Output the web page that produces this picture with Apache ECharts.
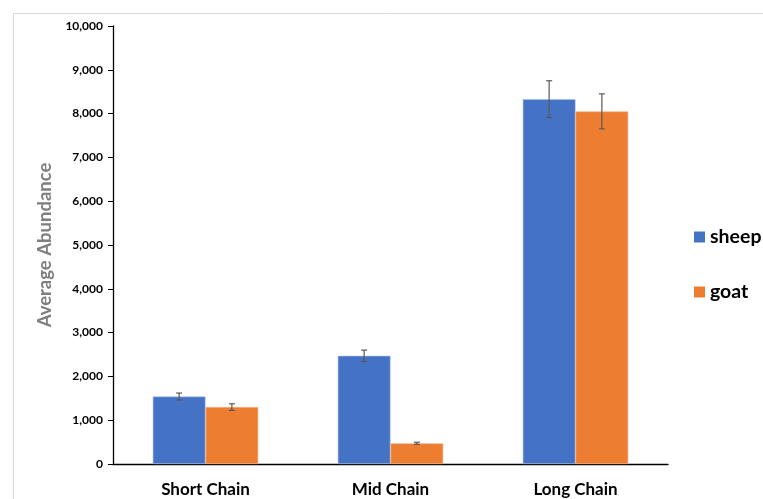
<!DOCTYPE html>
<html>
<head>
<meta charset="utf-8">
<script src="https://cdn.jsdelivr.net/npm/echarts@6/dist/echarts.min.js"></script>
<style>html,body{margin:0;padding:0;background:#fff}#c{width:763px;height:499px}</style>
</head>
<body>
<div id="c"></div>
<script>
const categories = ['Short Chain', 'Mid Chain', 'Long Chain'];
const seriesNames = ['sheep', 'goat'];
const sheepValues = [1540, 2470, 8330];
const goatValues = [1300, 472, 8050];
const sheepErrors = [80, 130, 420];
const goatErrors = [75, 25, 400];
const yTicks = [0, 1000, 2000, 3000, 4000, 5000, 6000, 7000, 8000, 9000, 10000];

const colors = ['#4472C4', '#ED7D31'];
const catGap = 0.43;
const font = 'Lato, "Open Sans", sans-serif';

function errorSeries(values, errors, idx) {
  const data = values.map((v, i) => [i, v, errors[i]]);
  return {
    type: 'custom',
    name: seriesNames[idx] + '_err',
    z: 10,
    silent: true,
    data: data,
    encode: { x: 0, y: 1 },
    renderItem: function (params, api) {
      const cat = api.value(0), val = api.value(1), err = api.value(2);
      const catW = api.size([1, 0])[0];
      const barW = catW * (1 - catGap) / 2;
      const c = api.coord([cat, val]);
      const x = c[0] + (idx === 0 ? -barW / 2 : barW / 2);
      const top = api.coord([cat, val + err])[1];
      const bot = api.coord([cat, val - err])[1];
      const cap = 3;
      const st = { stroke: '#595959', lineWidth: 1.2 };
      return {
        type: 'group',
        children: [
          { type: 'line', shape: { x1: x, y1: top, x2: x, y2: bot }, style: st },
          { type: 'line', shape: { x1: x - cap, y1: top, x2: x + cap, y2: top }, style: st },
          { type: 'line', shape: { x1: x - cap, y1: bot, x2: x + cap, y2: bot }, style: st }
        ]
      };
    }
  };
}

const chart = echarts.init(document.getElementById('c'), null, { renderer: 'canvas' });
chart.setOption({
  animation: false,
  backgroundColor: '#fff',
  graphic: [{
    type: 'rect', left: 11, top: 11, shape: { width: 780, height: 520 },
    style: { fill: 'none', stroke: '#d9d9d9', lineWidth: 1 }, silent: true, z: -1
  }],
  grid: { left: 113, right: 95, top: 26, bottom: 35 },
  legend: {
    data: seriesNames,
    orient: 'vertical',
    left: 689,
    top: 222,
    itemWidth: 11,
    itemHeight: 11,
    itemGap: 35,
    icon: 'rect',
    itemStyle: { borderWidth: 0 },
    textStyle: { fontFamily: font, fontWeight: 'bold', fontSize: 19.5, color: '#000' }
  },
  xAxis: {
    type: 'category',
    data: categories,
    axisLine: { lineStyle: { color: '#000', width: 1.3 } },
    axisTick: { show: false },
    axisLabel: { fontFamily: font, fontWeight: 'bold', fontSize: 17, color: '#000', margin: 17 }
  },
  yAxis: {
    type: 'value',
    min: 0, max: 10000, interval: 1000,
    name: 'Average Abundance',
    nameLocation: 'middle',
    nameGap: 56,
    nameRotate: 90,
    nameTextStyle: { fontFamily: font, fontWeight: 'bold', fontSize: 18.5, color: '#7f7f7f' },
    axisLine: { show: true, lineStyle: { color: '#000', width: 1.3 } },
    axisTick: { show: true, length: 5, lineStyle: { color: '#000' } },
    splitLine: { show: false },
    axisLabel: {
      fontFamily: font, fontWeight: 'bold', fontSize: 12, color: '#000', margin: 10,
      formatter: v => yTicks.includes(v) ? v.toLocaleString('en-US') : ''
    }
  },
  series: [
    { name: 'sheep', type: 'bar', data: sheepValues, barGap: '0%', barCategoryGap: (catGap * 100) + '%',
      itemStyle: { color: colors[0], borderColor: '#a9bfe6', borderWidth: 0.6 } },
    { name: 'goat', type: 'bar', data: goatValues, barGap: '0%', barCategoryGap: (catGap * 100) + '%',
      itemStyle: { color: colors[1], borderColor: '#f5b48a', borderWidth: 0.6 } },
    errorSeries(sheepValues, sheepErrors, 0),
    errorSeries(goatValues, goatErrors, 1)
  ]
});
</script>
</body>
</html>
